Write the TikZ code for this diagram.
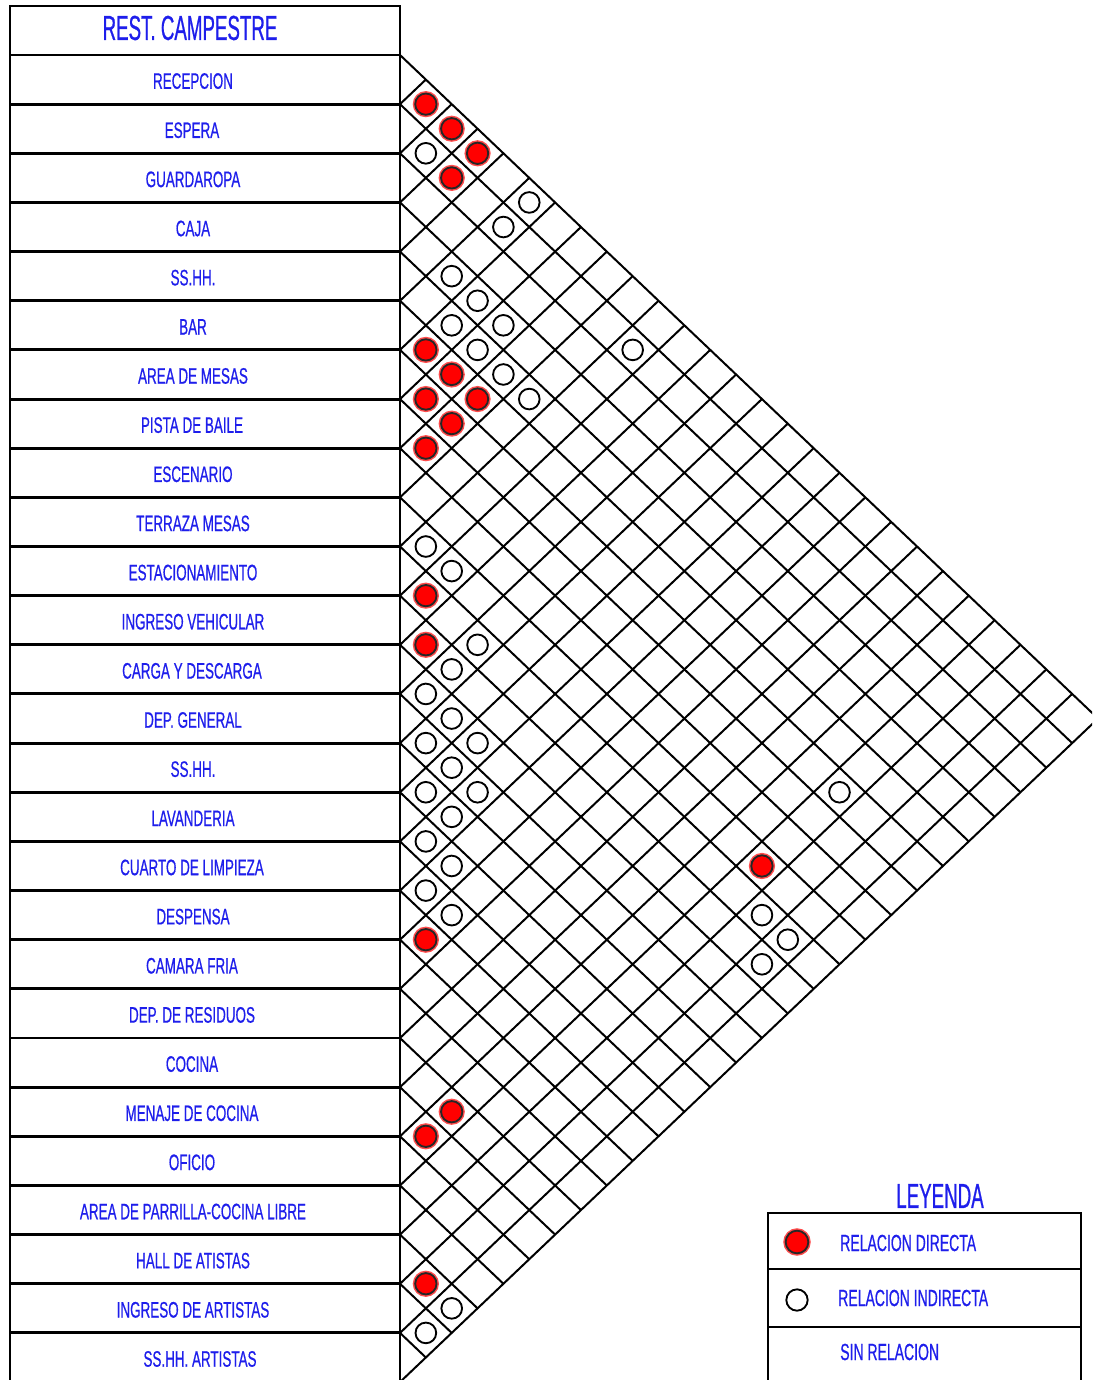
\documentclass[tikz,border=0pt]{standalone}
\usepackage{fontspec}
\newfontfamily\cadfont[FakeStretch=0.6,FakeBold=0.6]{Liberation Sans}
\newfontfamily\cadtitle[FakeStretch=0.54,FakeBold=0.6]{Liberation Sans}
\definecolor{txtblue}{RGB}{30,30,235}
\begin{document}
\begin{tikzpicture}[x=0.75pt,y=-0.75pt,
  boxline/.style={draw=black,line width=2.2pt},
  gridline/.style={draw=black,line width=1.5pt},
  rowlabel/.style={font=\cadfont\fontsize{16.8}{18}\selectfont,text=txtblue,inner sep=0pt},
  titlelabel/.style={font=\cadtitle\fontsize{26}{28}\selectfont,text=txtblue,inner sep=0pt},
  legendlabel/.style={font=\cadfont\fontsize{17.5}{19}\selectfont,text=txtblue,inner sep=0pt,anchor=west},
  reddot/.style={circle,inner sep=0pt,minimum size=16pt,fill=red,draw=black!85,line width=1.4pt,
    preaction={draw=red!70,line width=3.6pt}},
  whitedot/.style={circle,inner sep=0pt,minimum size=15.5pt,fill=white,draw=black,line width=1.4pt}]
\useasboundingbox (0,0) rectangle (1092,1380);
\clip (0,0) rectangle (1092,1380);
\def\H{49.15}
\def\K{1.052}
% triangular grid
\foreach \m in {0,...,27}{
  \pgfmathsetmacro\bm{55+\H*\m}
  \pgfmathsetmacro\td{(27-\m)*\H/2}
  \pgfmathsetmacro\tu{\m*\H/2}
  \draw[gridline] (400,\bm) -- ++({\K*\td},\td);
  \draw[gridline] (400,\bm) -- ++({\K*\tu},-\tu);
}
% left table
\draw[boxline] (10,6) rectangle (400,1395);
\foreach \m in {0,...,27}{
  \pgfmathsetmacro\bm{55+\H*\m}
  \draw[boxline] (10,\bm) -- (400,\bm);
}
\node[titlelabel] (title) at (190,28) {REST. CAMPESTRE};
\foreach \i/\x/\name in {1/193/RECEPCION,2/192/ESPERA,3/193/GUARDAROPA,4/193/CAJA,5/193/SS.HH.,
  6/193/BAR,7/193/AREA DE MESAS,8/192/PISTA DE BAILE,9/193/ESCENARIO,10/193/TERRAZA MESAS,
  11/193/ESTACIONAMIENTO,12/193/INGRESO VEHICULAR,13/192/CARGA Y DESCARGA,14/193/DEP. GENERAL,
  15/193/SS.HH.,16/193/LAVANDERIA,17/192/CUARTO DE LIMPIEZA,18/193/DESPENSA,19/192/CAMARA FRIA,
  20/192/DEP. DE RESIDUOS,21/192/COCINA,22/192/MENAJE DE COCINA,23/192/OFICIO,
  24/193/AREA DE PARRILLA-COCINA LIBRE,25/193/HALL DE ATISTAS,26/193/INGRESO DE ARTISTAS,
  27/200/SS.HH. ARTISTAS}{
  \node[rowlabel] (row\i) at (\x,{55+\H*(\i-0.5)+1.5}) {\name};
}
% relations
\foreach \i/\j in {1/2,1/3,1/4,2/4,6/7,6/8,7/8,6/9,7/9,8/9,11/12,12/13,18/19,10/24,21/23,22/23,25/26}{
  \node[reddot] (d\i-\j) at ({400+\K*\H*(\j-\i)/2},{55+\H*(\i+\j-1)/2}) {};
}
\foreach \i/\j in {2/3,1/6,2/6,4/6,4/7,5/7,4/8,2/11,5/8,5/9,5/10,10/11,10/12,11/14,12/14,13/14,
  13/15,14/15,13/16,14/16,15/16,14/17,7/24,15/17,16/17,16/18,17/18,17/19,11/25,11/26,12/26,25/27,26/27}{
  \node[whitedot] (d\i-\j) at ({400+\K*\H*(\j-\i)/2},{55+\H*(\i+\j-1)/2}) {};
}
% legend
\node[titlelabel] (leyenda) at (940,1196) {LEYENDA};
\draw[boxline] (768,1213) rectangle (1081,1395);
\draw[boxline] (768,1269) -- (1081,1269);
\draw[boxline] (768,1327) -- (1081,1327);
\node[reddot,minimum size=17pt] (legred) at (797,1242) {};
\node[whitedot,minimum size=16pt] (legwhite) at (797,1300) {};
\node[legendlabel] (legdir) at (840,1243) {RELACION DIRECTA};
\node[legendlabel] (legind) at (838,1298) {RELACION INDIRECTA};
\node[legendlabel] (legsin) at (840,1352) {SIN RELACION};
\end{tikzpicture}
\end{document}
